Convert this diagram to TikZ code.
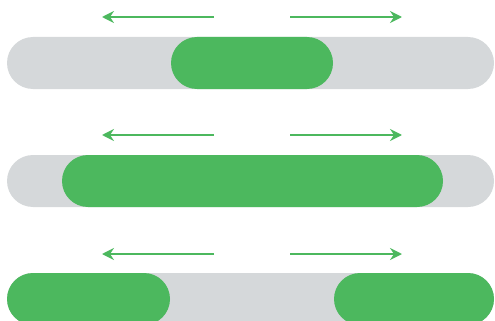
\documentclass[tikz,border=0pt]{standalone}
\usetikzlibrary{shapes.misc,arrows.meta}
\definecolor{barGreen}{RGB}{76,184,94}
\definecolor{barGray}{RGB}{213,216,218}
\begin{document}
\begin{tikzpicture}[x=1pt, y=-1pt,
    track/.style={rounded rectangle, fill=barGray, inner sep=0pt, minimum height=52pt, minimum width=487pt},
    segment/.style={rounded rectangle, fill=barGreen, inner sep=0pt, minimum height=52pt},
    push/.style={draw=barGreen, line width=2pt, -{Stealth[length=12pt, width=12pt, inset=4pt]}}]
    \useasboundingbox (0,0) rectangle (495,321);
    \clip (0,0) rectangle (495,321);
    % tracks
    \node[track] (track1) at (250.5,63) {};
    \node[track] (track2) at (250.5,181) {};
    \node[track] (track3) at (250.5,299) {};
    % green segments
    \node[segment, minimum width=162pt] (mid1) at (252,63) {};
    \node[segment, minimum width=381pt] (mid2) at (252.5,181) {};
    \node[segment, minimum width=163pt] (left3) at (88.5,299) {};
    \node[segment, minimum width=160pt] (right3) at (414,299) {};
    % arrows
    \foreach \i/\y in {1/17, 2/135, 3/254} {
        \coordinate (lfrom\i) at (214,\y);
        \coordinate (lto\i) at (102,\y);
        \coordinate (rfrom\i) at (290,\y);
        \coordinate (rto\i) at (402,\y);
        \draw[push] (lfrom\i) -- (lto\i);
        \draw[push] (rfrom\i) -- (rto\i);
    }
\end{tikzpicture}
\end{document}
